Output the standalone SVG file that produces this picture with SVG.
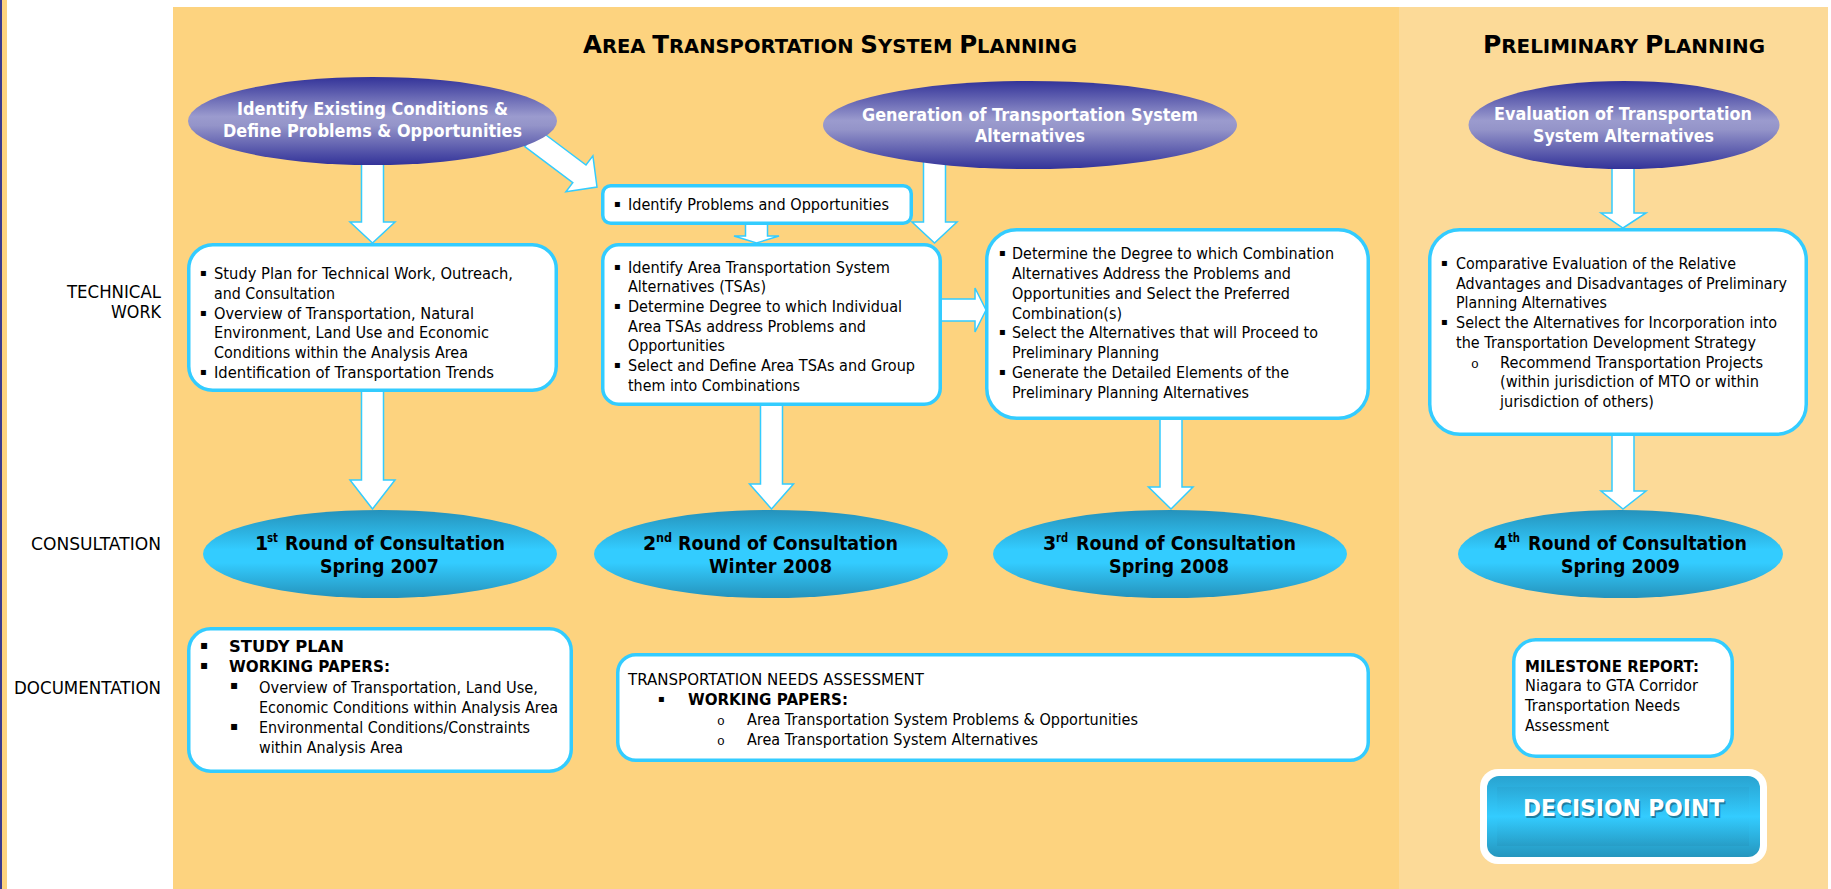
<svg xmlns="http://www.w3.org/2000/svg" width="1831" height="889" viewBox="0 0 1831 889">
<defs>
<linearGradient id="gp" x1="0" y1="0" x2="0" y2="1">
<stop offset="0" stop-color="#333399"/><stop offset="0.45" stop-color="#9B9BCE"/><stop offset="0.55" stop-color="#9494C9"/><stop offset="1" stop-color="#333399"/>
</linearGradient>
<linearGradient id="gc" x1="0" y1="0" x2="0" y2="1">
<stop offset="0" stop-color="#2592BB"/><stop offset="0.45" stop-color="#33CCFF"/><stop offset="0.6" stop-color="#33CCFF"/><stop offset="1" stop-color="#2592BB"/>
</linearGradient>
<linearGradient id="gd" x1="0" y1="0" x2="0" y2="1">
<stop offset="0" stop-color="#29A3D0"/><stop offset="0.5" stop-color="#33CCFF"/><stop offset="1" stop-color="#2596BE"/>
</linearGradient>
<style>
text{font-family:"DejaVu Sans",sans-serif;fill:#000}
.t{font-size:16.5px}
.b{font-weight:bold}
.bu{font-size:10px}
.bu2{font-size:12px}
.lb{font-size:17px}
.ew{font-size:18px;font-weight:bold;fill:#fff}
.cb{font-size:19px;font-weight:bold}
.sup{font-size:12px;font-weight:bold}
.ttl{font-weight:bold}
.big{font-size:24.5px}
.sm{font-size:19.5px}
.box{fill:#fff;stroke:#33CCFF;stroke-width:3.5}
.arr{fill:#fff;stroke:#33CCFF;stroke-width:1.5}
.o{font-family:"Liberation Mono",monospace;font-size:13px}
</style>
</defs>

<!-- background -->
<rect x="0" y="0" width="1831" height="889" fill="#fff"/>
<rect x="0" y="0" width="2" height="889" fill="#3A3A8E"/>
<rect x="2" y="0" width="5" height="889" fill="#FDD37F"/>
<rect x="173" y="7" width="1226" height="882" fill="#FDD37F"/>
<rect x="1399" y="7" width="429" height="882" fill="#FCDA98"/>

<!-- titles and lane labels -->
<g id="titles">
<text class="ttl" x="583" y="53" textLength="494" lengthAdjust="spacingAndGlyphs"><tspan class="big">A</tspan><tspan class="sm">REA </tspan><tspan class="big">T</tspan><tspan class="sm">RANSPORTATION </tspan><tspan class="big">S</tspan><tspan class="sm">YSTEM </tspan><tspan class="big">P</tspan><tspan class="sm">LANNING</tspan></text>
<text class="ttl" x="1483" y="53" textLength="282" lengthAdjust="spacingAndGlyphs"><tspan class="big">P</tspan><tspan class="sm">RELIMINARY </tspan><tspan class="big">P</tspan><tspan class="sm">LANNING</tspan></text>
</g>
<g id="lane-labels">
<text class="lb" x="67" y="298" textLength="94" lengthAdjust="spacingAndGlyphs">TECHNICAL</text>
<text class="lb" x="111" y="318" textLength="50" lengthAdjust="spacingAndGlyphs">WORK</text>
<text class="lb" x="31" y="550" textLength="130" lengthAdjust="spacingAndGlyphs">CONSULTATION</text>
<text class="lb" x="14" y="694" textLength="147" lengthAdjust="spacingAndGlyphs">DOCUMENTATION</text>
</g>

<!-- connectors -->
<g id="connectors">
<polygon class="arr" points="361.5,158 383.5,158 383.5,222 395,222 372.5,243 350,222 361.5,222"/>
<polygon class="arr" transform="translate(597,187) rotate(36.87)" points="-82,-11 -22,-11 -22,-22.5 0,0 -22,22.5 -22,11 -82,11"/>
<polygon class="arr" points="923.5,160 945.5,160 945.5,222 957,222 934.5,243 912,222 923.5,222"/>
<polygon class="arr" points="745.5,224 767.5,224 767.5,236 779,236 756.5,243 734,236 745.5,236"/>
<polygon class="arr" points="940,299 975,299 975,288 986,310 975,332 975,321 940,321"/>
<polygon class="arr" points="361.5,390 383.5,390 383.5,480 395,480 372.5,509 350,480 361.5,480"/>
<polygon class="arr" points="760.5,404 782.5,404 782.5,484 793.5,484 771.5,509 749.5,484 760.5,484"/>
<polygon class="arr" points="1160,418 1182,418 1182,487 1193,487 1171,509 1148.5,487 1160,487"/>
<polygon class="arr" points="1612,160 1634,160 1634,213 1646,213 1623,228 1601,213 1612,213"/>
<polygon class="arr" points="1612,433 1634,433 1634,491 1646,491 1623,509 1601,491 1612,491"/>
</g>

<!-- purple ellipses -->
<g id="n-identify-existing">
<ellipse cx="372.5" cy="121" rx="184.5" ry="44" fill="url(#gp)"/>
<text class="ew" x="237" y="115" textLength="271" lengthAdjust="spacingAndGlyphs">Identify Existing Conditions &amp;</text>
<text class="ew" x="223" y="137" textLength="299" lengthAdjust="spacingAndGlyphs">Define Problems &amp; Opportunities</text>
</g>
<g id="n-generation">
<ellipse cx="1030" cy="125" rx="207" ry="44" fill="url(#gp)"/>
<text class="ew" x="862" y="121" textLength="336" lengthAdjust="spacingAndGlyphs">Generation of Transportation System</text>
<text class="ew" x="975" y="142" textLength="110" lengthAdjust="spacingAndGlyphs">Alternatives</text>
</g>
<g id="n-evaluation">
<ellipse cx="1624" cy="125" rx="155.5" ry="44" fill="url(#gp)"/>
<text class="ew" x="1494" y="120" textLength="258" lengthAdjust="spacingAndGlyphs">Evaluation of Transportation</text>
<text class="ew" x="1533" y="142" textLength="181" lengthAdjust="spacingAndGlyphs">System Alternatives</text>
</g>

<!-- technical work boxes -->
<g id="n-tw1">
<rect class="box" x="188.75" y="244.75" width="367.5" height="145.5" rx="24"/>
<text class="bu" x="200" y="276.3">▪</text><text class="t" x="214" y="279.3" textLength="299" lengthAdjust="spacingAndGlyphs">Study Plan for Technical Work, Outreach,</text>
<text class="t" x="214" y="299" textLength="121" lengthAdjust="spacingAndGlyphs">and Consultation</text>
<text class="bu" x="200" y="315.7">▪</text><text class="t" x="214" y="318.7" textLength="260" lengthAdjust="spacingAndGlyphs">Overview of Transportation, Natural</text>
<text class="t" x="214" y="338.4" textLength="275" lengthAdjust="spacingAndGlyphs">Environment, Land Use and Economic</text>
<text class="t" x="214" y="358.1" textLength="254" lengthAdjust="spacingAndGlyphs">Conditions within the Analysis Area</text>
<text class="bu" x="200" y="374.8">▪</text><text class="t" x="214" y="377.8" textLength="280" lengthAdjust="spacingAndGlyphs">Identification of Transportation Trends</text>
</g>
<g id="n-idprob">
<rect class="box" x="602.75" y="185.75" width="308.5" height="37.5" rx="8"/>
<text class="bu" x="614" y="207">▪</text><text class="t" x="628" y="210" textLength="261" lengthAdjust="spacingAndGlyphs">Identify Problems and Opportunities</text>
</g>
<g id="n-tw2">
<rect class="box" x="602.75" y="244.75" width="337.5" height="159.5" rx="16"/>
<text class="bu" x="614" y="269.5">▪</text><text class="t" x="628" y="272.5" textLength="262" lengthAdjust="spacingAndGlyphs">Identify Area Transportation System</text>
<text class="t" x="628" y="292.2" textLength="138" lengthAdjust="spacingAndGlyphs">Alternatives (TSAs)</text>
<text class="bu" x="614" y="308.9">▪</text><text class="t" x="628" y="311.9" textLength="274" lengthAdjust="spacingAndGlyphs">Determine Degree to which Individual</text>
<text class="t" x="628" y="331.6" textLength="238" lengthAdjust="spacingAndGlyphs">Area TSAs address Problems and</text>
<text class="t" x="628" y="351.3" textLength="97" lengthAdjust="spacingAndGlyphs">Opportunities</text>
<text class="bu" x="614" y="368">▪</text><text class="t" x="628" y="371" textLength="287" lengthAdjust="spacingAndGlyphs">Select and Define Area TSAs and Group</text>
<text class="t" x="628" y="390.7" textLength="172" lengthAdjust="spacingAndGlyphs">them into Combinations</text>
</g>
<g id="n-tw3">
<rect class="box" x="986.75" y="229.75" width="381.5" height="188.5" rx="30"/>
<text class="bu" x="999" y="256">▪</text><text class="t" x="1012" y="259" textLength="322" lengthAdjust="spacingAndGlyphs">Determine the Degree to which Combination</text>
<text class="t" x="1012" y="278.9" textLength="279" lengthAdjust="spacingAndGlyphs">Alternatives Address the Problems and</text>
<text class="t" x="1012" y="298.7" textLength="278" lengthAdjust="spacingAndGlyphs">Opportunities and Select the Preferred</text>
<text class="t" x="1012" y="318.6" textLength="110" lengthAdjust="spacingAndGlyphs">Combination(s)</text>
<text class="bu" x="999" y="335.4">▪</text><text class="t" x="1012" y="338.4" textLength="306" lengthAdjust="spacingAndGlyphs">Select the Alternatives that will Proceed to</text>
<text class="t" x="1012" y="358.3" textLength="147" lengthAdjust="spacingAndGlyphs">Preliminary Planning</text>
<text class="bu" x="999" y="375.2">▪</text><text class="t" x="1012" y="378.2" textLength="277" lengthAdjust="spacingAndGlyphs">Generate the Detailed Elements of the</text>
<text class="t" x="1012" y="398" textLength="237" lengthAdjust="spacingAndGlyphs">Preliminary Planning Alternatives</text>
</g>
<g id="n-tw4">
<rect class="box" x="1429.75" y="229.75" width="376.5" height="204.5" rx="30"/>
<text class="bu" x="1441" y="266">▪</text><text class="t" x="1456" y="269" textLength="280" lengthAdjust="spacingAndGlyphs">Comparative Evaluation of the Relative</text>
<text class="t" x="1456" y="288.7" font-size="15.2" style="font-size:15.2px" textLength="331" lengthAdjust="spacingAndGlyphs">Advantages and Disadvantages of Preliminary</text>
<text class="t" x="1456" y="308.4" textLength="151" lengthAdjust="spacingAndGlyphs">Planning Alternatives</text>
<text class="bu" x="1441" y="325.1">▪</text><text class="t" x="1456" y="328.1" textLength="321" lengthAdjust="spacingAndGlyphs">Select the Alternatives for Incorporation into</text>
<text class="t" x="1456" y="347.8" textLength="300" lengthAdjust="spacingAndGlyphs">the Transportation Development Strategy</text>
<text class="o" x="1471" y="367.5">o</text><text class="t" x="1500" y="367.5" textLength="263" lengthAdjust="spacingAndGlyphs">Recommend Transportation Projects</text>
<text class="t" x="1500" y="387.2" textLength="259" lengthAdjust="spacingAndGlyphs">(within jurisdiction of MTO or within</text>
<text class="t" x="1500" y="406.9" textLength="154" lengthAdjust="spacingAndGlyphs">jurisdiction of others)</text>
</g>

<!-- consultation ellipses -->
<g id="n-c1">
<ellipse cx="380" cy="554" rx="177" ry="44" fill="url(#gc)"/>
<text class="cb" x="255" y="550">1</text><text class="sup" x="267" y="542" textLength="11" lengthAdjust="spacingAndGlyphs">st</text>
<text class="cb" x="285" y="550" textLength="220" lengthAdjust="spacingAndGlyphs">Round of Consultation</text>
<text class="cb" x="320" y="573" textLength="119" lengthAdjust="spacingAndGlyphs">Spring 2007</text>
</g>
<g id="n-c2">
<ellipse cx="771" cy="554" rx="177" ry="44" fill="url(#gc)"/>
<text class="cb" x="643" y="550">2</text><text class="sup" x="656" y="542" textLength="16" lengthAdjust="spacingAndGlyphs">nd</text>
<text class="cb" x="678" y="550" textLength="220" lengthAdjust="spacingAndGlyphs">Round of Consultation</text>
<text class="cb" x="709" y="573" textLength="123" lengthAdjust="spacingAndGlyphs">Winter 2008</text>
</g>
<g id="n-c3">
<ellipse cx="1170" cy="554" rx="177" ry="44" fill="url(#gc)"/>
<text class="cb" x="1043" y="550">3</text><text class="sup" x="1056" y="542" textLength="12" lengthAdjust="spacingAndGlyphs">rd</text>
<text class="cb" x="1076" y="550" textLength="220" lengthAdjust="spacingAndGlyphs">Round of Consultation</text>
<text class="cb" x="1109" y="573" textLength="120" lengthAdjust="spacingAndGlyphs">Spring 2008</text>
</g>
<g id="n-c4">
<ellipse cx="1620.5" cy="554" rx="162.5" ry="44" fill="url(#gc)"/>
<text class="cb" x="1494" y="550">4</text><text class="sup" x="1508" y="542" textLength="12" lengthAdjust="spacingAndGlyphs">th</text>
<text class="cb" x="1528" y="550" textLength="219" lengthAdjust="spacingAndGlyphs">Round of Consultation</text>
<text class="cb" x="1561" y="573" textLength="119" lengthAdjust="spacingAndGlyphs">Spring 2009</text>
</g>

<!-- documentation -->
<g id="n-doc1">
<rect class="box" x="188.75" y="628.75" width="382.5" height="142.5" rx="22"/>
<text class="bu2" x="200" y="648.7">▪</text><text class="t b" x="229" y="651.7" textLength="115" lengthAdjust="spacingAndGlyphs">STUDY PLAN</text>
<text class="bu2" x="200" y="668.7">▪</text><text class="t b" x="229" y="671.7" textLength="161" lengthAdjust="spacingAndGlyphs">WORKING PAPERS:</text>
<text class="bu2" x="230" y="689.2">▪</text><text class="t" x="259" y="692.7" textLength="279" lengthAdjust="spacingAndGlyphs">Overview of Transportation, Land Use,</text>
<text class="t" x="259" y="712.7" textLength="299" lengthAdjust="spacingAndGlyphs">Economic Conditions within Analysis Area</text>
<text class="bu2" x="230" y="729.8">▪</text><text class="t" x="259" y="733.3" textLength="271" lengthAdjust="spacingAndGlyphs">Environmental Conditions/Constraints</text>
<text class="t" x="259" y="752.7" textLength="144" lengthAdjust="spacingAndGlyphs">within Analysis Area</text>
</g>
<g id="n-doc2">
<rect class="box" x="617.75" y="654.75" width="750.5" height="105.5" rx="18"/>
<text class="t" x="628" y="685" textLength="296" lengthAdjust="spacingAndGlyphs">TRANSPORTATION NEEDS ASSESSMENT</text>
<text class="bu" x="658" y="702">▪</text><text class="t b" x="688" y="705" textLength="160" lengthAdjust="spacingAndGlyphs">WORKING PAPERS:</text>
<text class="o" x="717" y="725">o</text><text class="t" x="747" y="725" textLength="391" lengthAdjust="spacingAndGlyphs">Area Transportation System Problems &amp; Opportunities</text>
<text class="o" x="717" y="745">o</text><text class="t" x="747" y="745" textLength="291" lengthAdjust="spacingAndGlyphs">Area Transportation System Alternatives</text>
</g>
<g id="n-milestone">
<rect class="box" x="1513.75" y="639.75" width="218.5" height="116.5" rx="22"/>
<text class="t b" x="1525" y="671.7" textLength="174" lengthAdjust="spacingAndGlyphs">MILESTONE REPORT:</text>
<text class="t" x="1525" y="691" textLength="173" lengthAdjust="spacingAndGlyphs">Niagara to GTA Corridor</text>
<text class="t" x="1525" y="710.7" textLength="155" lengthAdjust="spacingAndGlyphs">Transportation Needs</text>
<text class="t" x="1525" y="730.7" textLength="84" lengthAdjust="spacingAndGlyphs">Assessment</text>
</g>
<g id="n-decision">
<rect x="1480" y="769" width="287" height="95" rx="18" fill="#fff"/>
<rect x="1487" y="776" width="273" height="81" rx="12" fill="url(#gd)"/>
<rect x="1497" y="787" width="252" height="59" fill="url(#gd)" opacity="0.5"/>
<text class="b" x="1524.5" y="817.5" font-size="22.5" textLength="201" lengthAdjust="spacingAndGlyphs" style="fill:#1C7FA3">DECISION POINT</text>
<text class="b" x="1523" y="816" font-size="22.5" textLength="201" lengthAdjust="spacingAndGlyphs" style="fill:#fff">DECISION POINT</text>
</g>
</svg>
